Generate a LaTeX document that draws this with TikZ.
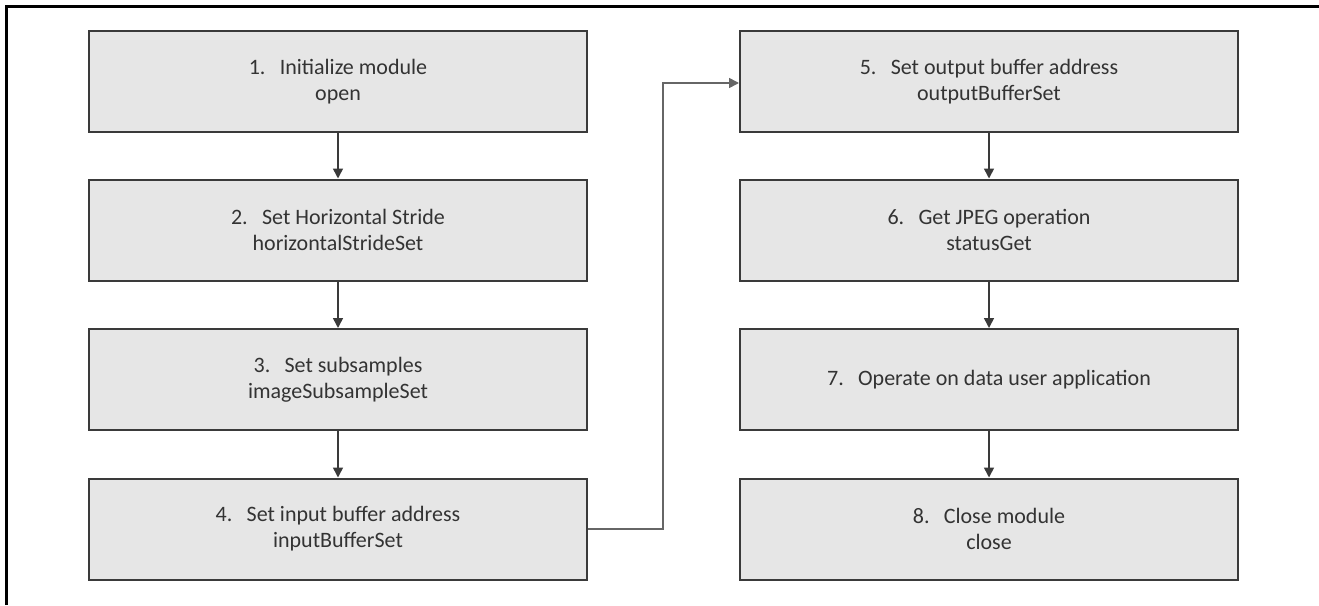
\documentclass[tikz,border=0pt]{standalone}
\usepackage{fontspec}
\setmainfont{Carlito}
\usetikzlibrary{arrows.meta}
\definecolor{boxfill}{HTML}{E6E6E6}
\definecolor{boxline}{HTML}{3A3A3A}
\definecolor{txt}{HTML}{333333}
\begin{document}
\begin{tikzpicture}[x=1pt,y=-1pt,
  stepbox/.style={draw=boxline,fill=boxfill,line width=2pt,minimum width=498pt,minimum height=101pt,
    inner sep=0pt,align=center,font=\fontsize{22}{26}\selectfont,text=txt},
  flow/.style={draw=boxline,line width=1.6pt,-{Triangle[width=10pt,length=10pt]}},
  link/.style={draw=gray!80!black,line width=1.6pt,-{Triangle[width=10pt,length=10pt]}}]
\useasboundingbox (0,0) rectangle (1319,605);
\draw[line width=3pt] (6.5,605) -- (6.5,6.5) -- (1319,6.5);
\node[stepbox] (n1) at (338,81.5) {1.\hspace{0.65em}Initialize module\\open};
\node[stepbox] (n2) at (338,230) {2.\hspace{0.65em}Set Horizontal Stride\\horizontalStrideSet};
\node[stepbox] (n3) at (338,379.5) {3.\hspace{0.65em}Set subsamples\\imageSubsampleSet};
\node[stepbox] (n4) at (338,529) {4.\hspace{0.65em}Set input buffer address\\inputBufferSet};
\node[stepbox] (n5) at (989,81.5) {5.\hspace{0.65em}Set output buffer address\\outputBufferSet};
\node[stepbox] (n6) at (989,230) {6.\hspace{0.65em}Get JPEG operation\\statusGet};
\node[stepbox] (n7) at (989,379.5) {7.\hspace{0.65em}Operate on data user application};
\node[stepbox] (n8) at (989,529) {8.\hspace{0.65em}Close module\\close};
\coordinate (c1) at (663,529);
\coordinate (c2) at (663,83);
\draw[flow] (n1) -- (n2);
\draw[flow] (n2) -- (n3);
\draw[flow] (n3) -- (n4);
\draw[flow] (n5) -- (n6);
\draw[flow] (n6) -- (n7);
\draw[flow] (n7) -- (n8);
\draw[link] (n4.east) -- (c1) -- (c2) -- (n5.west |- c2);
\end{tikzpicture}
\end{document}
